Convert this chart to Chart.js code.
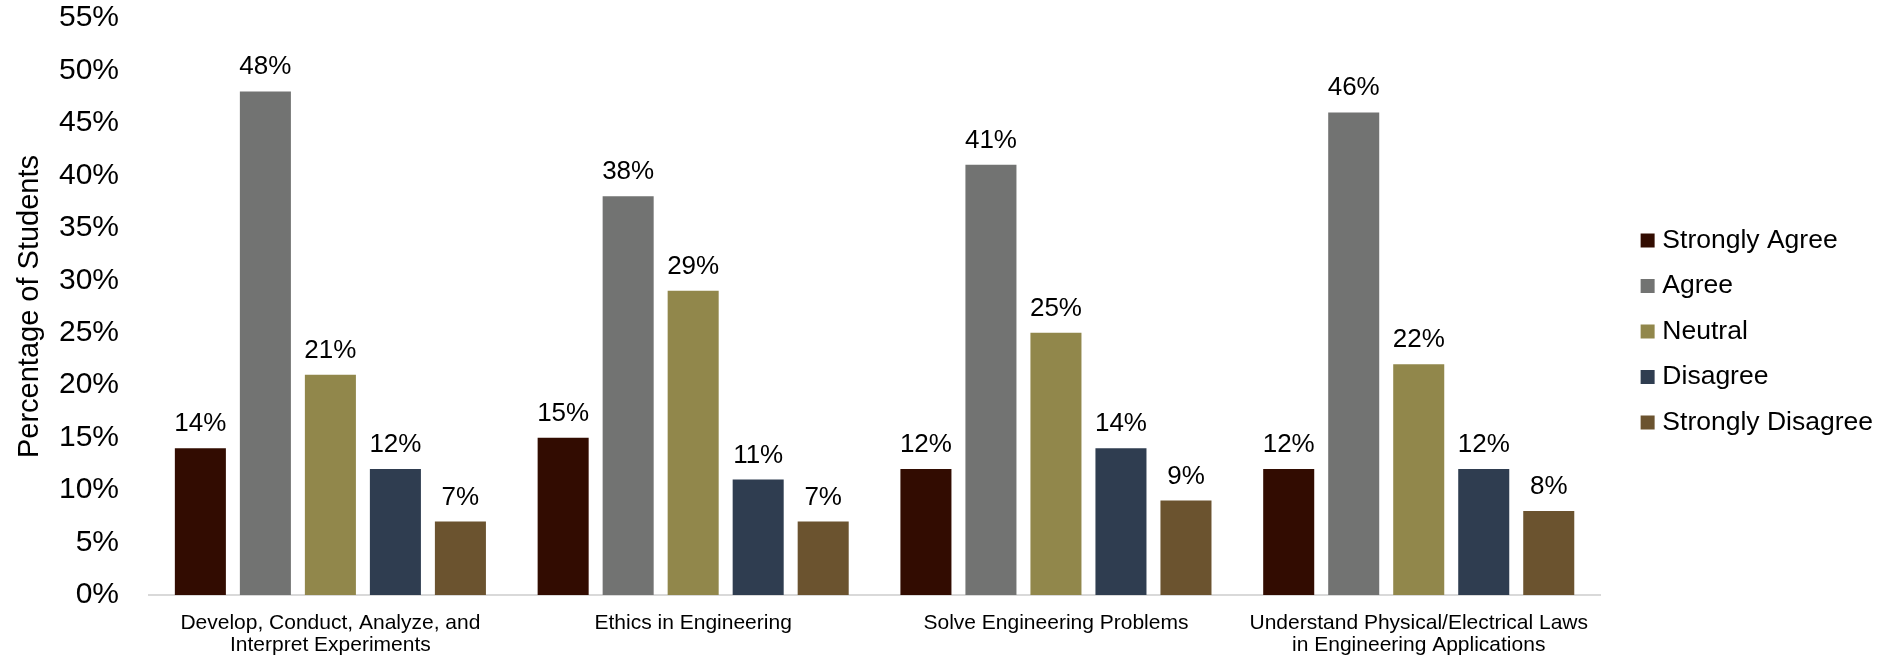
<!DOCTYPE html>
<html>
<head>
<meta charset="utf-8">
<script src="https://cdn.jsdelivr.net/npm/chart.js@4.4.0/dist/chart.umd.min.js"></script>
<style>
  html, body { margin: 0; padding: 0; background: #ffffff; }
  #wrap { width: 1879px; height: 656px; position: relative; }
</style>
</head>
<body>
<div id="wrap"><canvas id="c"></canvas></div>
<script>
const categories = [
  ["Develop, Conduct, Analyze, and", "Interpret Experiments"],
  ["Ethics in Engineering"],
  ["Solve Engineering Problems"],
  ["Understand Physical/Electrical Laws", "in Engineering Applications"]
];
const seriesNames = ["Strongly Agree", "Agree", "Neutral", "Disagree", "Strongly Disagree"];
const stronglyAgree = [14, 15, 12, 12];
const agree = [48, 38, 41, 46];
const neutral = [21, 29, 25, 22];
const disagree = [12, 11, 14, 12];
const stronglyDisagree = [7, 7, 9, 8];
const seriesColors = ["#320C01", "#727372", "#91874B", "#2F3D50", "#6B532F"];
const yTicks = [0, 5, 10, 15, 20, 25, 30, 35, 40, 45, 50, 55];
const yTitle = "Percentage of Students";

const FONT = "'Liberation Sans', Arial, sans-serif";
const seriesValues = [stronglyAgree, agree, neutral, disagree, stronglyDisagree];

const valueLabels = {
  id: 'valueLabels',
  afterDatasetsDraw(chart) {
    const ctx = chart.ctx;
    ctx.save();
    ctx.font = "26px " + FONT;
    ctx.fillStyle = "#000000";
    ctx.textAlign = "center";
    ctx.textBaseline = "alphabetic";
    chart.data.datasets.forEach((ds, di) => {
      const meta = chart.getDatasetMeta(di);
      meta.data.forEach((el, i) => {
        ctx.fillText(ds.data[i] + "%", el.x, el.y - 17);
      });
    });
    ctx.restore();
  }
};

new Chart(document.getElementById('c'), {
  type: 'bar',
  data: {
    labels: categories,
    datasets: seriesNames.map((name, i) => ({
      label: name,
      data: seriesValues[i],
      backgroundColor: seriesColors[i],
      borderWidth: 0,
      categoryPercentage: 0.896,
      barPercentage: 0.785
    }))
  },
  options: {
    responsive: true,
    maintainAspectRatio: false,
    animation: false,
    layout: { padding: { left: 0, top: 0, bottom: 0, right: -4 } },
    plugins: {
      tooltip: { enabled: false },
      legend: {
        position: 'right',
        align: 'center',
        title: { display: true, text: '', font: { size: 5, lineHeight: 1 }, padding: 1 },
        labels: {
          font: { family: FONT, size: 26.5 },
          color: '#000000',
          usePointStyle: true,
          pointStyle: 'rect',
          boxWidth: 3,
          boxHeight: 14,
          padding: 19
        }
      }
    },
    scales: {
      x: {
        grid: { display: false, drawTicks: false },
        border: { display: true, color: '#D9D9D9', width: 2 },
        ticks: {
          font: { family: FONT, size: 21, lineHeight: 1.05 },
          color: '#000000',
          padding: 17,
          maxRotation: 0,
          autoSkip: false
        },
        afterFit(scale) { scale.height = 61; }
      },
      y: {
        min: 0,
        max: 55,
        grid: { display: false, drawTicks: true, tickLength: 30 },
        border: { display: false },
        afterBuildTicks(scale) { scale.ticks = yTicks.map(v => ({ value: v })); },
        ticks: {
          font: { family: FONT, size: 30 },
          color: '#000000',
          padding: 0,
          callback: (v) => v + '%'
        },
        title: {
          display: true,
          text: yTitle,
          font: { family: FONT, size: 29 },
          color: '#000000',
          padding: { top: 13, bottom: 0 }
        },
        afterFit(scale) { scale.width = 149; }
      },
      spacer: {
        type: 'linear',
        position: 'right',
        display: true,
        grid: { display: false, drawTicks: false },
        border: { display: false },
        ticks: { display: false, padding: 0 },
        afterFit(scale) { scale.width = 27; }
      }
    }
  },
  plugins: [valueLabels]
});
</script>
</body>
</html>
